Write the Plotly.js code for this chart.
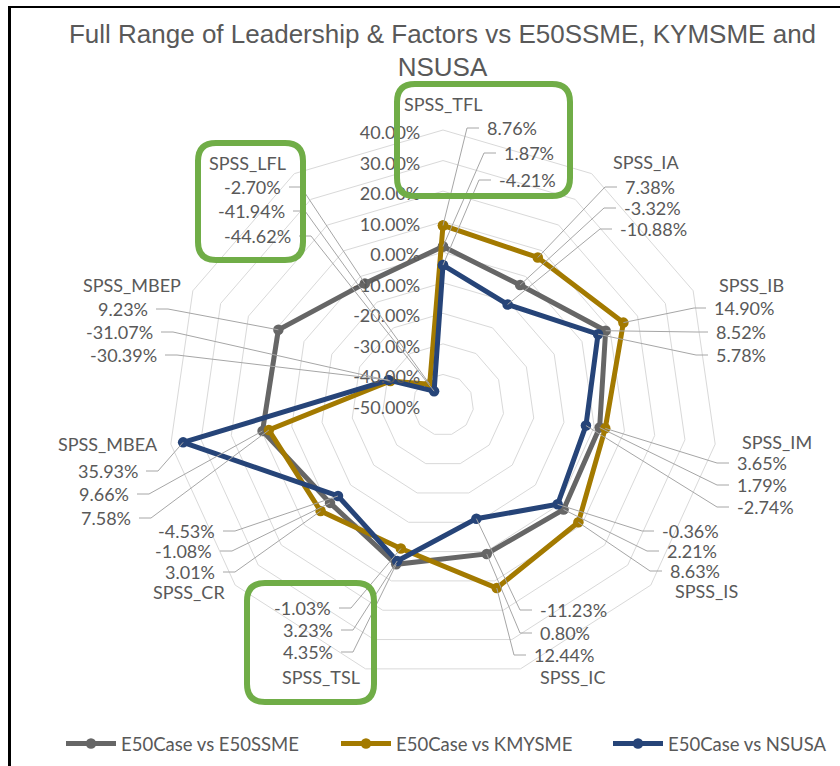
<!DOCTYPE html>
<html>
<head>
<meta charset="utf-8">
<script src="https://cdn.plot.ly/plotly-3.0.1.min.js"></script>
<style>html,body{margin:0;padding:0;background:#fff;}#chart{width:840px;height:766px;}</style>
</head>
<body>
<div id="chart"></div>
<script>
// ---- data ----
const categories = ['SPSS_TFL','SPSS_IA','SPSS_IB','SPSS_IM','SPSS_IS','SPSS_IC','SPSS_TSL','SPSS_CR','SPSS_MBEA','SPSS_MBEP','SPSS_LFL'];
const seriesNames = ['E50Case vs E50SSME','E50Case vs KMYSME','E50Case vs NSUSA'];
const e50ssme = [1.87,-3.32,8.52,1.79,2.21,0.80,4.35,-1.08,9.66,9.23,-2.70];
const kmysme  = [8.76,7.38,14.90,3.65,8.63,12.44,-1.03,3.01,7.58,-31.07,-41.94];
const nsusa   = [-4.21,-10.88,5.78,-2.74,-0.36,-11.23,3.23,-4.53,35.93,-30.39,-44.62];
const radialTicks = [-50,-40,-30,-20,-10,0,10,20,30,40];
const titleText = 'Full Range of Leadership & Factors vs E50SSME, KYMSME and<br>NSUSA';

// ---- style / layout config ----
const W = 840, H = 766;
const colors = ['#666666','#A37A00','#264478'];
const textColor = '#595959';
const rMin = -50, rMax = 40;
const cx = 443, cy = 405, R = 275;   // polar centre and radius in px
const series = [e50ssme, kmysme, nsusa];
const legendX = [61, 336, 608];      // px position of each legend entry

// label blocks: name [x, y, anchor], values [seriesIndex, x, y, anchor]
const labelLayout = [
  {name:[402,104,'left'],  vals:[[1,485,128,'left'],[0,502,153,'left'],[2,497,180,'left']]},
  {name:[611,162,'left'],  vals:[[1,623,187,'left'],[0,622,208,'left'],[2,618,229,'left']]},
  {name:[717,285,'left'],  vals:[[1,712,308,'left'],[0,714,332,'left'],[2,714,355,'left']]},
  {name:[740,442,'left'],  vals:[[1,735,463,'left'],[0,735,485,'left'],[2,735,507,'left']]},
  {name:[673,591,'left'],  vals:[[2,660,531,'left'],[0,665,551,'left'],[1,668,571,'left']]},
  {name:[538,677,'left'],  vals:[[2,538,610,'left'],[0,538,633,'left'],[1,532,655,'left']]},
  {name:[362,677,'right'], vals:[[1,333,608,'right'],[2,335,630,'right'],[0,335,652,'right']]},
  {name:[227,592,'right'], vals:[[2,217,531,'right'],[0,214,551,'right'],[1,217,572,'right']]},
  {name:[160,444,'right'], vals:[[2,140,471,'right'],[0,131,494,'right'],[1,133,518,'right']]},
  {name:[183,285,'right'], vals:[[0,150,309,'right'],[1,155,332,'right'],[2,159,355,'right']]},
  {name:[288,163,'right'], vals:[[0,283,187,'right'],[1,287,211,'right'],[2,293,236,'right']]}
];
const boxes = [[397,84,570,196],[198,143,303,260],[247,583,374,702]];

const px = x => x / W;
const py = y => 1 - y / H;

function pointPx(i, v) {
  const th = i * 2 * Math.PI / categories.length;
  const r = (v - rMin) / (rMax - rMin) * R;
  return [cx + r * Math.sin(th), cy - r * Math.cos(th)];
}

const legendIds = ['legend', 'legend2', 'legend3'];
const traces = series.map((vals, k) => ({
  type: 'scatterpolar',
  mode: 'lines+markers',
  name: seriesNames[k],
  legend: legendIds[k],
  r: vals.concat([vals[0]]),
  theta: categories.concat([categories[0]]),
  cliponaxis: true,
  line: {color: colors[k], width: 5},
  marker: {color: colors[k], size: 10.5, symbol: 'circle'}
}));

const annotations = [];
const shapes = [];
const lblFont = {family: 'Lato, sans-serif', size: 18, color: textColor};

labelLayout.forEach((blk, i) => {
  annotations.push({xref:'paper', yref:'paper', x: px(blk.name[0]), y: py(blk.name[1]),
    xanchor: blk.name[2], yanchor: 'middle', text: categories[i], showarrow: false, font: lblFont});
  blk.vals.forEach(v => {
    const [k, x, y, anc] = v;
    const val = series[k][i];
    annotations.push({xref:'paper', yref:'paper', x: px(x), y: py(y), xanchor: anc, yanchor: 'middle',
      text: val.toFixed(2) + '%', showarrow: false, font: lblFont});
    const dir = anc === 'left' ? -1 : 1;
    const sx = x + dir * 6, kx = sx + dir * 12;
    const p = pointPx(i, val);
    shapes.push({type:'path', xref:'paper', yref:'paper', layer:'above',
      path: 'M' + px(sx) + ',' + py(y) + ' L' + px(kx) + ',' + py(y) + ' L' + px(p[0]) + ',' + py(p[1]),
      line: {color: '#a6a6a6', width: 1}});
  });
});

boxes.forEach(b => {
  const [x0, y0, x1, y1] = b, r = 18;
  const P = (x, y) => px(x) + ',' + py(y);
  const path = 'M' + P(x0 + r, y0) + ' L' + P(x1 - r, y0) + ' Q' + P(x1, y0) + ' ' + P(x1, y0 + r) +
    ' L' + P(x1, y1 - r) + ' Q' + P(x1, y1) + ' ' + P(x1 - r, y1) +
    ' L' + P(x0 + r, y1) + ' Q' + P(x0, y1) + ' ' + P(x0, y1 - r) +
    ' L' + P(x0, y0 + r) + ' Q' + P(x0, y0) + ' ' + P(x0 + r, y0) + ' Z';
  shapes.push({type:'path', xref:'paper', yref:'paper', path: path, line:{color:'#70AD47', width:6}});
});

// chart border (top and left)
shapes.push({type:'line', xref:'paper', yref:'paper', x0: px(9.5), y0: 0, x1: px(9.5), y1: py(7), line:{color:'#000', width:3}});
shapes.push({type:'line', xref:'paper', yref:'paper', x0: px(8), y0: py(7), x1: 1, y1: py(7), line:{color:'#000', width:2}});

const legendBase = {orientation: 'h', xanchor: 'left', y: py(744), yanchor: 'middle',
  font: {family: 'Lato, sans-serif', size: 18.5, color: textColor}, itemwidth: 50, bgcolor: 'rgba(0,0,0,0)'};

const layout = {
  width: W, height: H,
  margin: {l:0, r:0, t:0, b:0},
  paper_bgcolor: '#fff',
  title: {text: titleText, x: 442.5 / W, xanchor: 'center', xref: 'paper', y: 1 - 42.5 / H, yanchor: 'middle',
          font: {family: 'Liberation Sans, Arial, sans-serif', size: 26, color: textColor}},
  showlegend: true,
  legend:  Object.assign({}, legendBase, {x: px(legendX[0])}),
  legend2: Object.assign({}, legendBase, {x: px(legendX[1])}),
  legend3: Object.assign({}, legendBase, {x: px(legendX[2])}),
  polar: {
    domain: {x: [(cx - R) / W, (cx + R) / W], y: [1 - (cy + R) / H, 1 - (cy - R) / H]},
    bgcolor: 'rgba(0,0,0,0)',
    gridshape: 'linear',
    radialaxis: {range: [rMin, rMax], tickvals: radialTicks, ticktext: radialTicks.map(t => t.toFixed(2) + '%'),
                 angle: 90, side: 'counterclockwise', showline: false, ticks: 'outside', ticklen: 6,
                 tickcolor: 'rgba(0,0,0,0)',
                 gridcolor: '#d9d9d9', gridwidth: 1,
                 tickfont: {family: 'Lato, sans-serif', size: 18, color: textColor}},
    angularaxis: {type: 'category', direction: 'clockwise', rotation: 90, showticklabels: false, ticks: '',
                  showgrid: false, showline: true, linecolor: '#d9d9d9', linewidth: 1}
  },
  annotations: annotations,
  shapes: shapes
};

Plotly.newPlot('chart', traces, layout, {displayModeBar: false});
</script>
</body>
</html>
